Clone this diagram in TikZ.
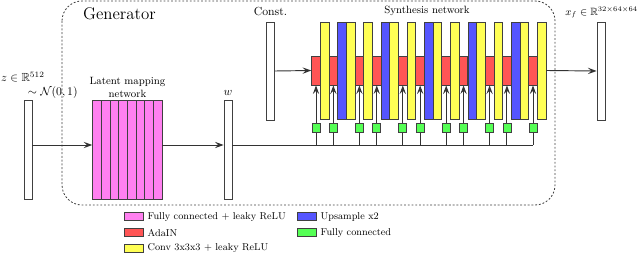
\documentclass[tikz,border=0pt]{standalone}
\usepackage{amssymb}
\usetikzlibrary{positioning,arrows.meta}

\definecolor{fcpink}{RGB}{255,128,240}
\definecolor{adared}{RGB}{255,85,85}
\definecolor{convyel}{RGB}{255,255,85}
\definecolor{upblue}{RGB}{85,85,255}
\definecolor{fcgreen}{RGB}{85,255,85}

\tikzset{
  box/.style={draw=black!75, line width=0.7pt, inner sep=0pt, minimum width=0.26cm},
  vec/.style={box, fill=white, minimum width=0.24cm, minimum height=2.97cm},
  fcl/.style={box, fill=fcpink, minimum height=2.97cm},
  conv/.style={box, fill=convyel, minimum height=2.91cm},
  up/.style={box, fill=upblue, minimum height=2.91cm},
  ada/.style={box, fill=adared, minimum height=0.87cm},
  fc/.style={box, fill=fcgreen, minimum width=0.24cm, minimum height=0.26cm},
  key/.style={box, minimum width=0.55cm, minimum height=0.25cm},
  keytext/.style={font=\fontsize{8.5}{10}\selectfont},
  arr/.style={->, >={Stealth[length=2.6mm,width=1.9mm,inset=1mm]}, line width=0.8pt, draw=black!80},
  wire/.style={line width=0.8pt, draw=black!80}
}

\begin{document}
\begin{tikzpicture}[x=0.03cm, y=-0.03cm]
    \useasboundingbox (0,0) rectangle (640,255);
    % generator frame
    \draw[black!75, line width=0.7pt, dash pattern=on 1.6pt off 1.6pt, rounded corners=0.6cm] (62,1) rectangle (555,205);
    \node[anchor=base west] (gen) at (79,19.5) {\Large Generator};

    % latent code and mapping network
    \node[vec] (z) at (28,149.5) {};
    \node[anchor=north west, align=left, inner sep=0pt] (zlab) at (1,72) {$z\in\mathbb{R}^{512}$\\\hspace*{0.8cm}$\sim\mathcal{N}(0,1)$};
    \foreach \i in {1,...,8}
        \node[fcl] (m\i) at (88.34+\i*8.66,149.5) {};
    \node[anchor=north, align=center, inner sep=0pt, font=\small] (mlab) at (127.5,77) {Latent mapping\\network};
    \node[vec] (w) at (228,149.5) {};
    \node[anchor=base] (wlab) at (228,96) {$w$};
    \coordinate (lane) at (0,145);
    \draw[arr] (z.east |- lane) -- (m1.west |- lane);
    \draw[arr] (m8.east |- lane) -- (w.west |- lane);

    % synthesis network
    \node[vec, minimum height=2.94cm] (c) at (270.5,71) {};
    \node[anchor=base] (clab) at (270.5,15.5) {Const.};
    \node[anchor=base, font=\small] (slab) at (427,14) {Synthesis network};
    \foreach \i in {2,5,7,10,12,15,17,20,22,25,27}
        \node[conv] (y\i) at (307.32+\i*8.68,70.5) {};
    \foreach \i in {4,9,14,19,24}
        \node[up] (b\i) at (307.32+\i*8.68,70.5) {};
    \foreach \i [count=\k] in {1,3,6,8,11,13,16,18,21,23,26} {
        \node[ada] (a\k) at (307.32+\i*8.68,70.5) {};
        \node[fc, below=1.14cm of a\k] (g\k) {};
        \draw[arr] (g\k.north) -- (a\k.south);
        \draw[wire] (g\k.south) -- (g\k.south |- lane);
    }
    \draw[wire] (w.east |- lane) -- (g11.south |- lane);
    \draw[arr] (c.east) -- (a1.west);
    \node[vec, minimum height=2.94cm] (x) at (601,71) {};
    \node[anchor=base east, font=\small, inner sep=0pt] (xlab) at (638,15.5) {$x_f\in\mathbb{R}^{32\times64\times64}$};
    \draw[arr] (y27.east) -- (x.west);

    % legend
    \node[key, fill=fcpink] (k1) at (134,216.7) {};
    \node[key, fill=adared] (k2) at (134,232.7) {};
    \node[key, fill=convyel] (k3) at (134,248.3) {};
    \node[key, fill=upblue] (k4) at (307,216.7) {};
    \node[key, fill=fcgreen] (k5) at (307,232.7) {};
    \node[right=0pt of k1, keytext] (t1) {Fully connected + leaky ReLU};
    \node[right=0pt of k2, keytext] (t2) {AdaIN};
    \node[right=0pt of k3, keytext] (t3) {Conv 3x3x3 + leaky ReLU};
    \node[right=0pt of k4, keytext] (t4) {Upsample x2};
    \node[right=0pt of k5, keytext] (t5) {Fully connected};
\end{tikzpicture}
\end{document}
